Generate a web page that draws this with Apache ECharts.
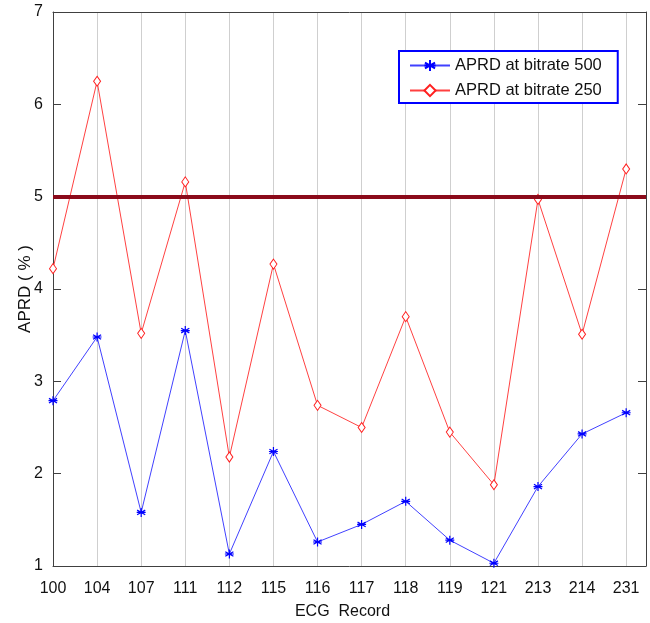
<!DOCTYPE html>
<html><head><meta charset="utf-8">
<script src="https://cdn.jsdelivr.net/npm/echarts@6/dist/echarts.min.js"></script>
<style>html,body{margin:0;padding:0;background:#fff}#c{width:650px;height:623px}</style>
</head><body><div id="c"></div>
<script>
const records = ['100','104','107','111','112','115','116','117','118','119','121','213','214','231'];
const aprd500 = [2.79,3.48,1.58,3.55,1.13,2.24,1.26,1.45,1.70,1.28,1.03,1.86,2.43,2.66];
const aprd250 = [4.22,6.25,3.52,5.16,2.18,4.27,2.74,2.50,3.70,2.45,1.88,4.97,3.51,5.30];
const threshold = 5;
const yTicks = [1,2,3,4,5,6,7];

const chart = echarts.init(document.getElementById('c'));
const font = 'Liberation Sans, Arial, sans-serif';
const pair = arr => arr.map((v,i)=>[i+1,v]);
const star = 'path://M0,-5L0,5M-4.5,-2.6L4.5,2.6M-4.5,2.6L4.5,-2.6M-5,0L5,0';
chart.setOption({
  animation:false,
  grid:{left:53,right:4,top:12,bottom:57,containLabel:false,outerBoundsMode:'none'},
  legend:{
    left:399, top:51, orient:'vertical',
    borderColor:'#0000ff', borderWidth:2, backgroundColor:'#fff',
    padding:[6,16,4,10], itemGap:8, itemWidth:40, itemHeight:14,
    textStyle:{fontFamily:font, fontSize:16.5, color:'#111'},
    data:['APRD at bitrate 500','APRD at bitrate 250']
  },
  xAxis:[{
    type:'value', min:1, max:14.45, interval:1,
    name:'ECG  Record', nameLocation:'middle', nameGap:38, nameMoveOverlap:false,
    nameTextStyle:{fontFamily:font, fontSize:16, color:'#111', padding:[0,14,0,0]},
    axisLine:{show:true, lineStyle:{color:'#404040', width:1}},
    axisTick:{show:false},
    axisLabel:{fontFamily:font, fontSize:16, color:'#111', margin:15,
      formatter:v=>{const i=Math.round(v); return Math.abs(v-i)<1e-6 && records[i-1]? records[i-1] : '';},
      showMaxLabel:false},
    splitLine:{show:true, lineStyle:{color:'#cfcfcf', width:1}}
  },{
    type:'value', position:'top', min:1, max:14.45,
    axisLine:{show:true, lineStyle:{color:'#404040', width:1}},
    axisTick:{show:false}, axisLabel:{show:false}, splitLine:{show:false}
  }],
  yAxis:[{
    type:'value', min:1, max:7, interval:1,
    name:'APRD ( % )', nameLocation:'middle', nameGap:19, nameMoveOverlap:false,
    nameTextStyle:{fontFamily:font, fontSize:17, color:'#111'},
    axisLine:{show:true, lineStyle:{color:'#404040', width:1}},
    axisTick:{show:true, inside:true, length:8, lineStyle:{color:'#404040'}},
    axisLabel:{fontFamily:font, fontSize:16, color:'#111', margin:10,
      formatter:v=>yTicks.includes(v)?String(v):''},
    splitLine:{show:false}
  },{
    type:'value', position:'right', min:1, max:7, interval:1,
    axisLine:{show:true, lineStyle:{color:'#404040', width:1}},
    axisTick:{show:true, inside:true, length:8, lineStyle:{color:'#404040'}},
    axisLabel:{show:false}, splitLine:{show:false}
  }],
  series:[{
    name:'APRD at bitrate 500', type:'line', data:pair(aprd500),
    symbol:star, symbolSize:9, showAllSymbol:true,
    lineStyle:{color:'#0000ff', width:1, opacity:0.75},
    itemStyle:{color:'#0000ff', borderColor:'#0000ff', borderWidth:1.2},
    z:3
  },{
    name:'APRD at bitrate 250', type:'line', data:pair(aprd250),
    symbol:'diamond', symbolSize:[7,10], showAllSymbol:true,
    lineStyle:{color:'#ff0000', width:1, opacity:0.75},
    itemStyle:{color:'#fff', borderColor:'#ff2020', borderWidth:1},
    z:3,
    markLine:{
      silent:true, symbol:['none','none'], label:{show:false},
      lineStyle:{color:'#8b0a1a', width:4, type:'solid'},
      data:[{yAxis:threshold}], z:4
    }
  }]
});
</script></body></html>
